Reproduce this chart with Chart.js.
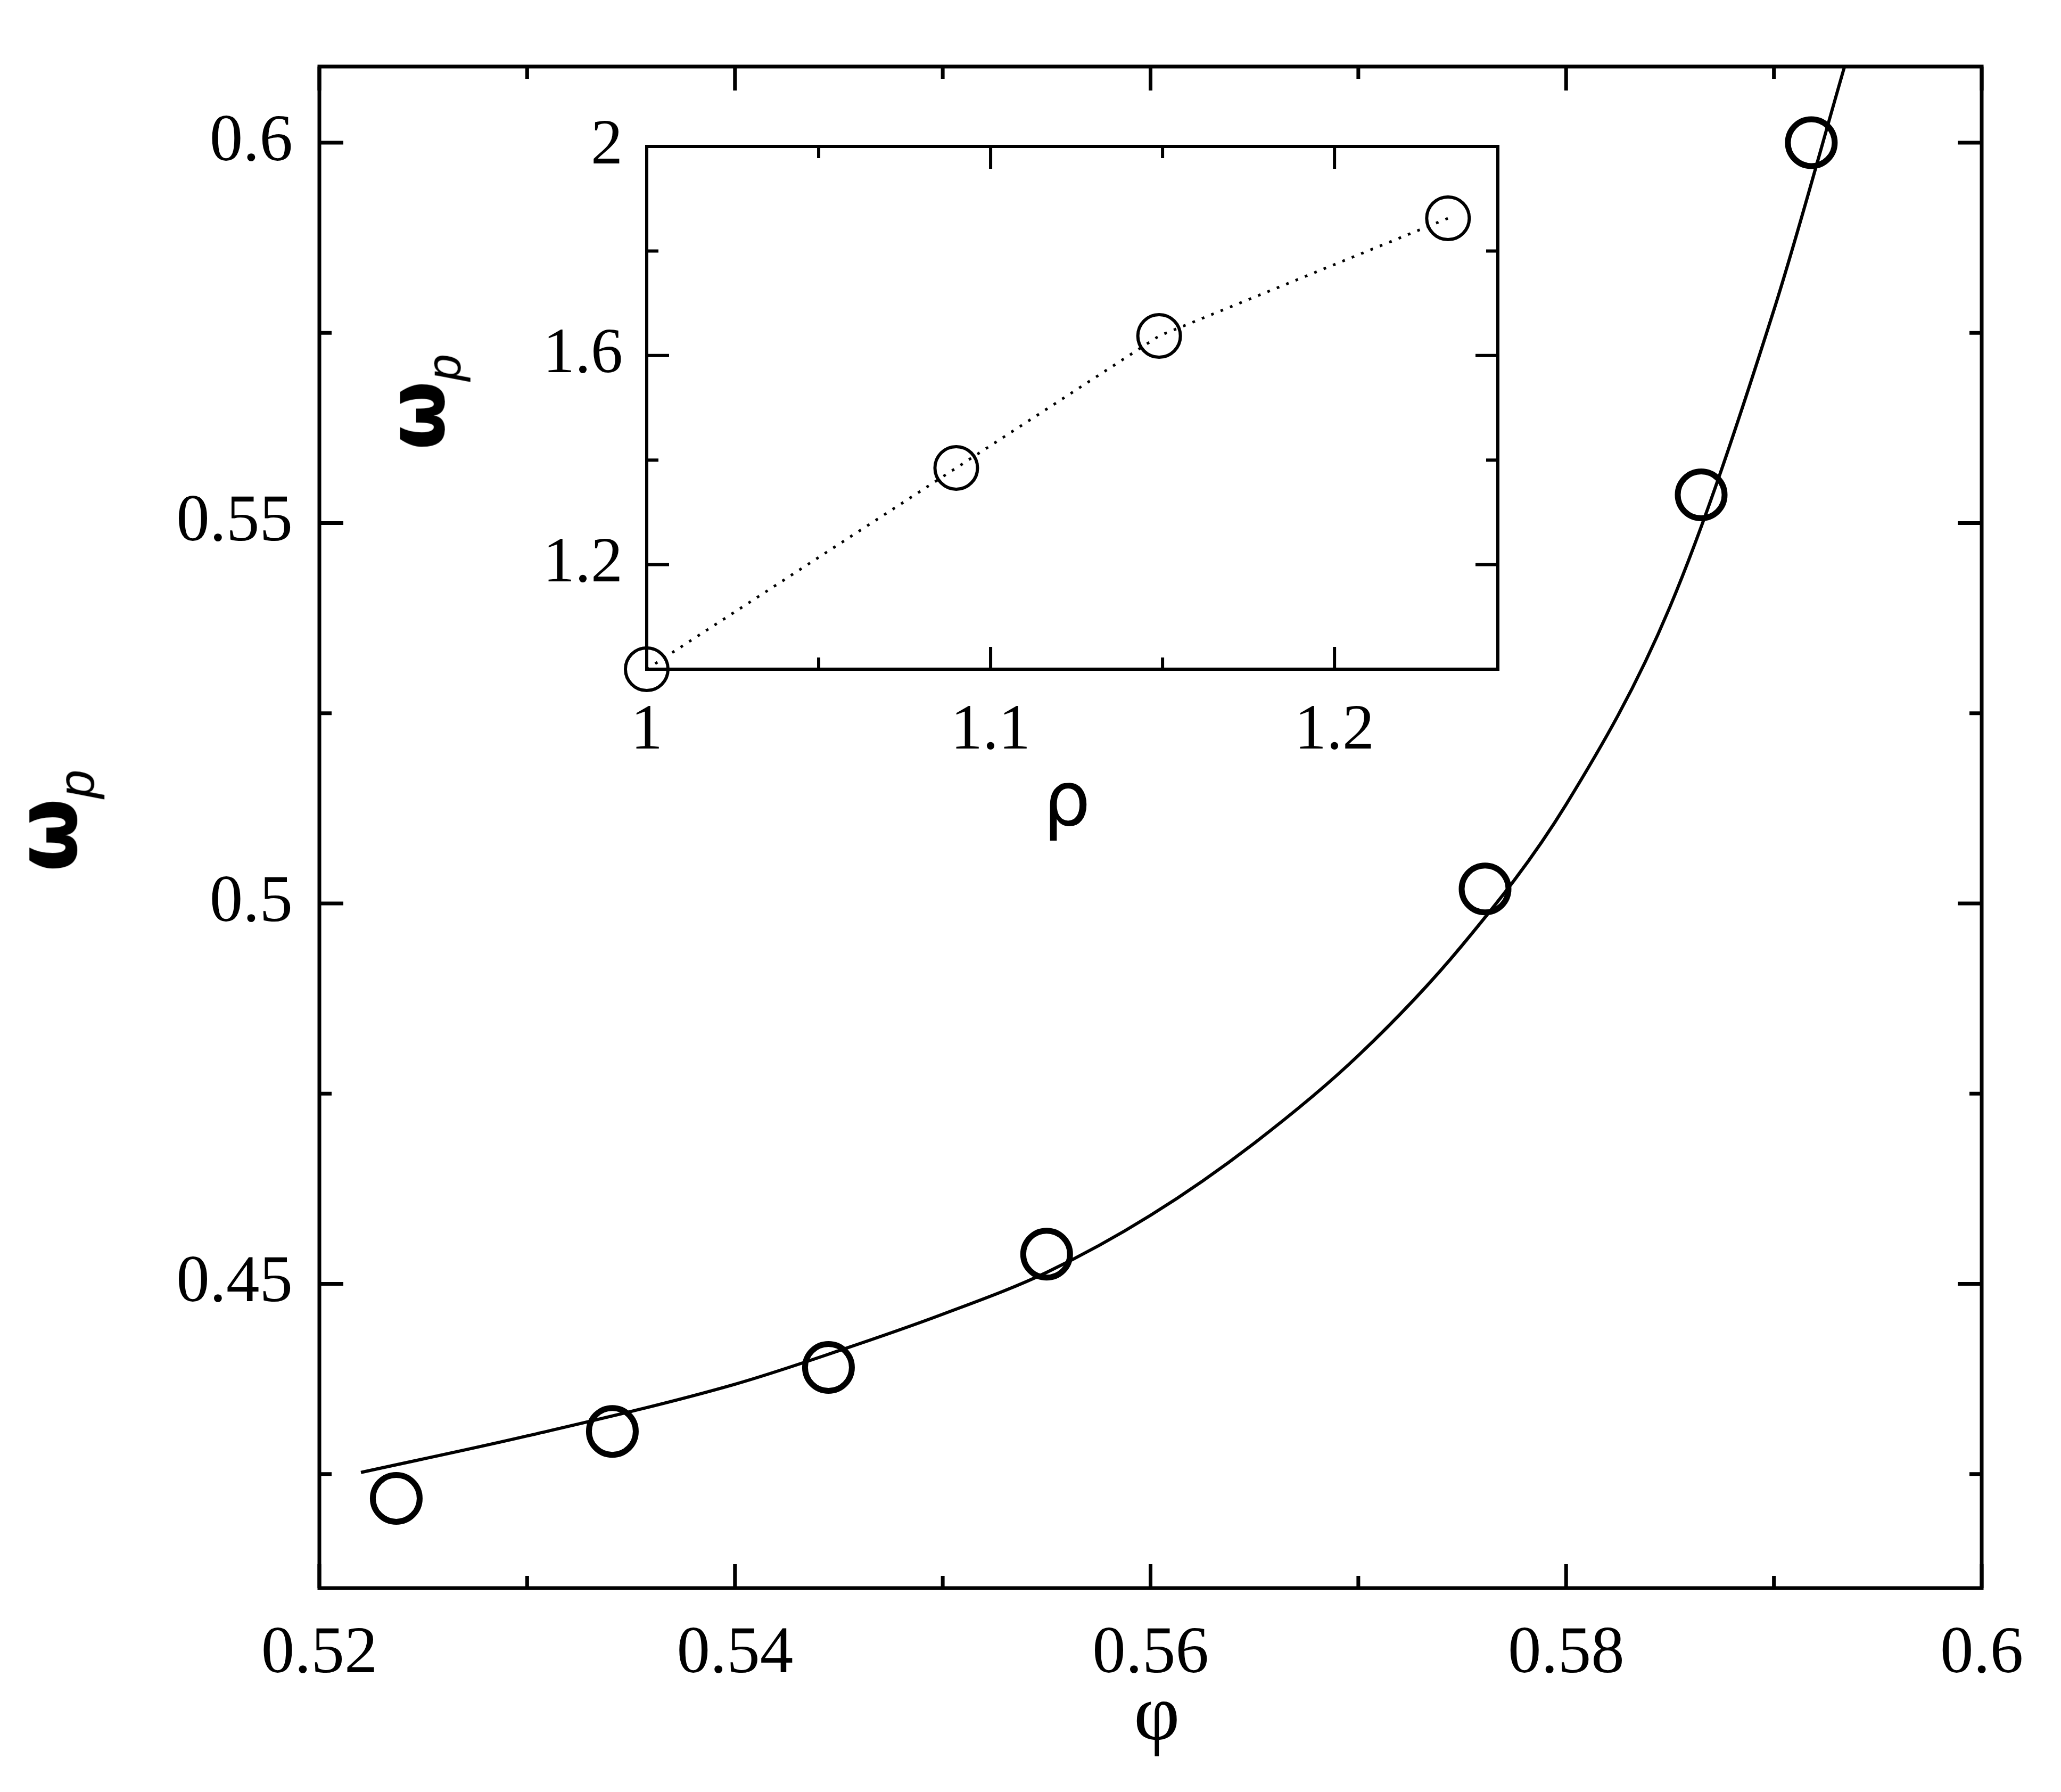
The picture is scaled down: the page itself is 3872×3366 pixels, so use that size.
<!DOCTYPE html>
<html>
<head>
<meta charset="utf-8">
<script src="https://cdn.jsdelivr.net/npm/chart.js@4"></script>
<style>
  body { margin: 0; background: #fff; }
  #wrap { position: relative; width: 3872px; height: 3366px; }
  canvas { position: absolute; }
  .lbl { position: absolute; font-family: "Liberation Serif", serif; color: #000; white-space: nowrap; }
  .lbl sub { font-style: italic; font-family: "Liberation Sans", sans-serif; font-size: 0.6em; }
</style>
</head>
<body>
<div id="wrap">
  <canvas id="main" width="3872" height="3366" style="left:0;top:0"></canvas>
  <canvas id="inset" width="1960" height="1272" style="left:900px;top:158px"></canvas>
  <div class="lbl" style="left:2130px;top:3130px;font-size:150px">φ</div>
  <div class="lbl" style="left:0px;top:1440px;font-size:160px;font-weight:bold;transform:rotate(-90deg);font-family:'DejaVu Sans'">ω<sub style="font-weight:normal">p</sub></div>
  <div class="lbl" style="left:1960px;top:1420px;font-size:140px;font-family:'DejaVu Sans'">ρ</div>
  <div class="lbl" style="left:700px;top:660px;font-size:150px;font-weight:bold;transform:rotate(-90deg);font-family:'DejaVu Sans'">ω<sub style="font-weight:normal">p</sub></div>
</div>
<script>
// main plot: phi vs omega_p
var phiPoints = [0.5237, 0.5341, 0.5445, 0.5550, 0.5761, 0.5865, 0.5918];
var omegaPoints = [0.4218, 0.4306, 0.4390, 0.4539, 0.5019, 0.5537, 0.6000];
var fitPhi = [0.522, 0.530, 0.540, 0.545, 0.550, 0.555, 0.560, 0.565, 0.570, 0.575, 0.580, 0.585, 0.590, 0.5934];
var fitOmega = [0.4252, 0.4300, 0.4368, 0.4412, 0.4460, 0.4515, 0.4590, 0.4685, 0.4800, 0.4945, 0.5130, 0.5390, 0.5780, 0.6100];
var mainXTicks = [0.52, 0.54, 0.56, 0.58, 0.6];
var mainYTicks = [0.45, 0.5, 0.55, 0.6];

// inset: rho vs omega_p
var rhoPoints = [1.0, 1.09, 1.149, 1.233];
var omegaInset = [1.0, 1.385, 1.6375, 1.8625];
var insetXTicks = [1, 1.1, 1.2];
var insetYTicks = [1.2, 1.6, 2];

function tickPlugin(xMajor, xMinor, yMajor, yMinor, majLen, minLen, lw) {
    return {
        id: 'inwardTicks',
        afterDraw: function(chart) {
            var c = chart.ctx, a = chart.chartArea;
            var xs = chart.scales.x, ys = chart.scales.y;
            c.save();
            c.strokeStyle = '#000';
            c.lineWidth = lw;
            c.strokeRect(a.left, a.top, a.right - a.left, a.bottom - a.top);
            c.beginPath();
            function vx(v, len) {
                var p = xs.getPixelForValue(v);
                c.moveTo(p, a.bottom); c.lineTo(p, a.bottom - len);
                c.moveTo(p, a.top); c.lineTo(p, a.top + len);
            }
            function vy(v, len) {
                var p = ys.getPixelForValue(v);
                c.moveTo(a.left, p); c.lineTo(a.left + len, p);
                c.moveTo(a.right, p); c.lineTo(a.right - len, p);
            }
            xMajor.forEach(function(v){ vx(v, majLen); });
            xMinor.forEach(function(v){ vx(v, minLen); });
            yMajor.forEach(function(v){ vy(v, majLen); });
            yMinor.forEach(function(v){ vy(v, minLen); });
            c.stroke();
            c.restore();
        }
    };
}

function axisOpts(min, max, ticks, size, fixed, isX, pad) {
    return {
        type: 'linear', min: min, max: max,
        afterBuildTicks: function(s){ s.ticks = ticks.map(function(v){ return {value: v}; }); },
        afterFit: function(s){ if (isX) s.height = fixed; else s.width = fixed; },
        grid: { display: false, drawTicks: false },
        border: { display: false },
        ticks: {
            color: '#000', padding: pad,
            font: { family: 'Liberation Serif', size: size },
            callback: function(v){ return String(+v.toFixed(3)); }
        }
    };
}

new Chart(document.getElementById('main').getContext('2d'), {
    type: 'scatter',
    data: {
        datasets: [{
            data: fitPhi.map(function(x, i){ return {x: x, y: fitOmega[i]}; }),
            showLine: true, borderColor: '#000', borderWidth: 6, pointRadius: 0,
            cubicInterpolationMode: 'monotone'
        }, {
            data: phiPoints.map(function(x, i){ return {x: x, y: omegaPoints[i]}; }),
            showLine: false, pointRadius: 44, pointBorderWidth: 11,
            pointBorderColor: '#000', pointBackgroundColor: 'rgba(0,0,0,0)', clip: false
        }]
    },
    options: {
        responsive: false, devicePixelRatio: 1, animation: false,
        layout: { padding: { left: 0, top: 34, right: 149, bottom: 0 } },
        plugins: { legend: { display: false }, tooltip: { enabled: false } },
        scales: {
            x: axisOpts(0.52, 0.6, mainXTicks, 125, 383, true, 50),
            y: axisOpts(0.41, 0.61, mainYTicks, 125, 600, false, 50)
        }
    },
    plugins: [tickPlugin(mainXTicks, [0.53, 0.55, 0.57, 0.59], mainYTicks,
        [0.425, 0.475, 0.525, 0.575], 45, 23, 7)]
});

new Chart(document.getElementById('inset').getContext('2d'), {
    type: 'scatter',
    data: {
        datasets: [{
            data: rhoPoints.map(function(x, i){ return {x: x, y: omegaInset[i]}; }),
            showLine: true, borderColor: '#000', borderWidth: 5, borderDash: [5, 14],
            pointRadius: 40, pointBorderWidth: 6, pointBorderColor: '#000',
            pointBackgroundColor: 'rgba(0,0,0,0)', clip: false
        }]
    },
    options: {
        responsive: false, devicePixelRatio: 1, animation: false,
        layout: { padding: { left: 0, top: 34, right: 28, bottom: 0 } },
        plugins: { legend: { display: false }, tooltip: { enabled: false } },
        scales: {
            x: axisOpts(1, 1.2475, insetXTicks, 120, 173, true, 45),
            y: axisOpts(1, 2, insetYTicks, 120, 315, false, 45)
        }
    },
    plugins: [tickPlugin(insetXTicks, [1.05, 1.15], insetYTicks, [1.4, 1.8], 42, 22, 6)]
});
</script>
</body>
</html>
